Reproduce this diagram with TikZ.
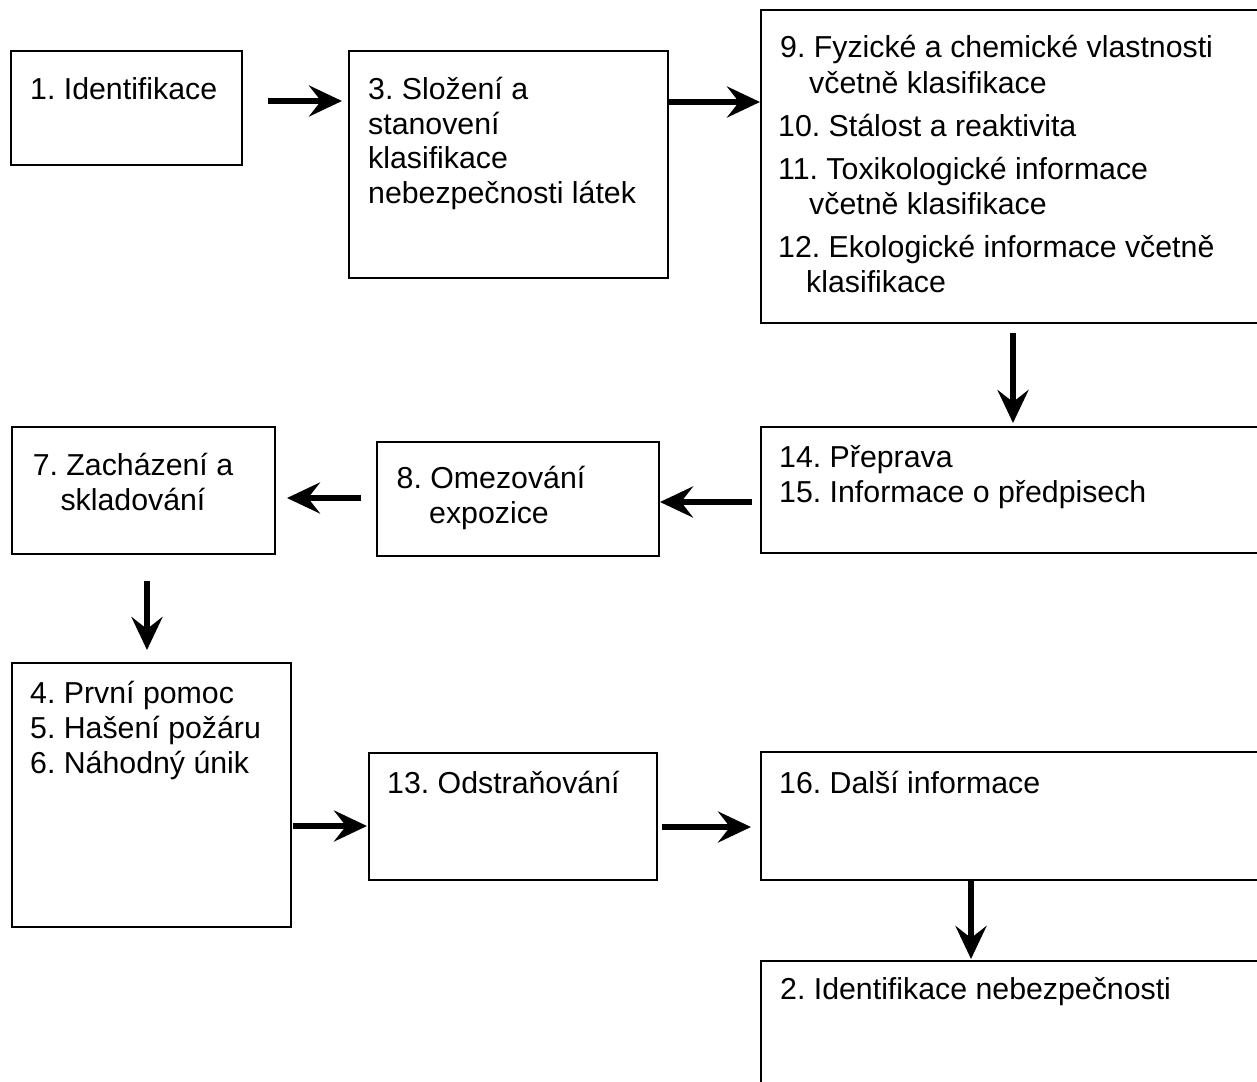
\documentclass[tikz,border=0pt]{standalone}
\usepackage{fontspec}
\setmainfont{Liberation Sans}
\usetikzlibrary{arrows.meta}
\begin{document}
\frenchspacing
\begin{tikzpicture}[x=1pt,y=-1pt,
  box/.style={draw, line width=2.2pt, rectangle, inner sep=0pt, outer sep=0pt},
  txt/.style={anchor=base west, inner sep=0pt, font=\fontsize{30.3}{35}\selectfont\frenchspacing},
  ctxt/.style={anchor=base, inner sep=0pt, font=\fontsize{30.3}{35}\selectfont\frenchspacing},
  arr/.style={line width=5.5pt, -{Stealth[length=33pt,width=31pt,inset=12pt]}}]
\useasboundingbox (0,0) rectangle (1257,1081);
\clip (0,0) rectangle (1257,1081);

% boxes
\node[box, minimum width=231pt, minimum height=114pt] (b1) at (126.5,108) {};
\node[box, minimum width=319pt, minimum height=227pt] (b3) at (508.5,164.5) {};
\node[box, minimum width=509pt, minimum height=313pt] (b9) at (1015.5,166.5) {};
\node[box, minimum width=509pt, minimum height=126pt] (b14) at (1015.5,490) {};
\node[box, minimum width=282pt, minimum height=114pt] (b8) at (518,499) {};
\node[box, minimum width=263pt, minimum height=127pt] (b7) at (143.5,490.5) {};
\node[box, minimum width=279pt, minimum height=264pt] (b4) at (151.5,795) {};
\node[box, minimum width=288pt, minimum height=127pt] (b13) at (513,816.5) {};
\node[box, minimum width=509pt, minimum height=128pt] (b16) at (1015.5,816) {};
\node[box, minimum width=509pt, minimum height=139pt] (b2) at (1015.5,1030.5) {};

% texts
\node[txt] (t1) at (30,99) {1. Identifikace};

\node[txt] (t3a) at (368,99) {3. Složení a};
\node[txt] (t3b) at (368,134) {stanovení};
\node[txt] (t3c) at (368,168) {klasifikace};
\node[txt] (t3d) at (368,203) {nebezpečnosti látek};

\node[txt] (t9a) at (780,58) {9. Fyzické a chemické vlastnosti};
\node[txt] (t9b) at (809,93) {včetně klasifikace};
\node[txt] (t10) at (778,136) {10. Stálost a reaktivita};
\node[txt] (t11a) at (778,179) {11. Toxikologické informace};
\node[txt] (t11b) at (809,214) {včetně klasifikace};
\node[txt] (t12a) at (778,257) {12. Ekologické informace včetně};
\node[txt] (t12b) at (806,292) {klasifikace};

\node[txt] (t14) at (779,467) {14. Přeprava};
\node[txt] (t15) at (779,502) {15. Informace o předpisech};

\node[ctxt] (t8a) at (491,488) {8. Omezování};
\node[ctxt] (t8b) at (489,523) {expozice};

\node[ctxt] (t7a) at (133,475) {7. Zacházení a};
\node[ctxt] (t7b) at (133,510) {skladování};

\node[txt] (t4) at (30,703) {4. První pomoc};
\node[txt] (t5) at (30,738) {5. Hašení požáru};
\node[txt] (t6) at (30,773) {6. Náhodný únik};

\node[txt] (t13) at (387,793) {13. Odstraňování};
\node[txt] (t16) at (779,793) {16. Další informace};
\node[txt] (t2) at (780,999) {2. Identifikace nebezpečnosti};

% arrows
\draw[arr, shorten <=26pt, shorten >=7pt] (b1.east |- 0,101) -- (b3.west |- 0,101);
\draw[arr, shorten >=1pt] (b3.east |- 0,102) -- (b9.west |- 0,102);
\draw[arr, shorten <=10pt, shorten >=4pt] (b9.south -| 1013,0) -- (b14.north -| 1013,0);
\draw[arr, shorten <=9pt, shorten >=1pt] (b14.west |- 0,502) -- (b8.east |- 0,502);
\draw[arr, shorten <=16pt, shorten >=12pt] (b8.west |- 0,498) -- (b7.east |- 0,498);
\draw[arr, shorten <=27pt, shorten >=13pt] (b7.south -| 147,0) -- (b4.north -| 147,0);
\draw[arr, shorten <=2pt, shorten >=2pt] (b4.east |- 0,826) -- (b13.west |- 0,826);
\draw[arr, shorten <=5pt, shorten >=10pt] (b13.east |- 0,827) -- (b16.west |- 0,827);
\draw[arr, shorten <=1pt, shorten >=2pt] (b16.south -| 971,0) -- (b2.north -| 971,0);
\end{tikzpicture}
\end{document}
